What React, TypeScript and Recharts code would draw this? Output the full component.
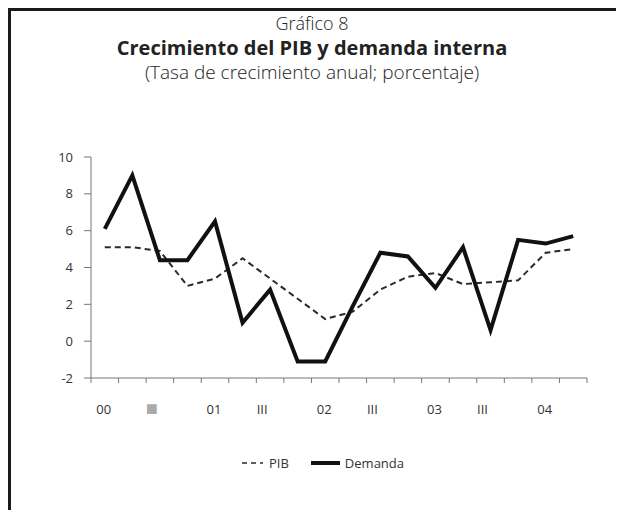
import { LineChart, Line, XAxis, YAxis } from "recharts";

// trimestres 2000 I - 2004 II
const quarters = [
  "00-I", "00-II", "00-III", "00-IV",
  "01-I", "01-II", "01-III", "01-IV",
  "02-I", "02-II", "02-III", "02-IV",
  "03-I", "03-II", "03-III", "03-IV",
  "04-I", "04-II",
];
const xLabels = ["00", "■", "01", "III", "02", "III", "03", "III", "04"];
const pib = [5.1, 5.1, 4.9, 3.0, 3.4, 4.5, 3.4, 2.3, 1.2, 1.6, 2.8, 3.5, 3.7, 3.1, 3.2, 3.3, 4.8, 5.0];
const demanda = [6.1, 9.0, 4.4, 4.4, 6.5, 1.0, 2.8, -1.1, -1.1, 1.9, 4.8, 4.6, 2.9, 5.1, 0.6, 5.5, 5.3, 5.7];
const yTicks = [-2, 0, 2, 4, 6, 8, 10];

const data = quarters.map((q, i) => ({ pos: i + 0.5, q, pib: pib[i], demanda: demanda[i] }));
const boundaryTicks = quarters.map((_, i) => i).concat(quarters.length);
const labelTicks = xLabels.map((_, i) => i * 2 + 0.5);

const FONT = "'Open Sans', sans-serif";
const AXIS = "#777";

function LabelTick(props: any) {
  const { x, y, payload } = props;
  const label = xLabels[Math.round((payload.value - 0.5) / 2)];
  const isYear = /^\d+$/.test(label);
  const square = label === "■";
  return (
    <text
      x={x + (isYear ? -1 : -8)}
      y={square ? y - 4 : y}
      dy="0.71em"
      textAnchor="middle"
      fontSize={square ? 20 : 13}
      fontFamily={FONT}
      fill={square ? "#aaa" : "#333"}
    >
      {label}
    </text>
  );
}

export default function App() {
  return (
    <div
      style={{
        position: "relative",
        width: 616,
        height: 502,
        borderTop: "3px solid #1a1a1a",
        borderLeft: "3px solid #1a1a1a",
        boxSizing: "border-box",
        fontFamily: FONT,
        color: "#222",
      }}
    >
      <style>{"html,body{overflow:hidden}"}</style>
      <div style={{ position: "absolute", left: 0, width: 602, top: 0, textAlign: "center", fontSize: 18, fontWeight: 300 }}>
        Gráfico 8
      </div>
      <div style={{ position: "absolute", left: 0, width: 602, top: 23, textAlign: "center", fontSize: 20, fontWeight: 700 }}>
        Crecimiento del PIB y demanda interna
      </div>
      <div style={{ position: "absolute", left: 0, width: 602, top: 48, textAlign: "center", fontSize: 19, fontWeight: 300 }}>
        (Tasa de crecimiento anual; porcentaje)
      </div>

      <div style={{ position: "absolute", left: 0, top: 0 }}>
        <LineChart width={600} height={420} data={data} margin={{ top: 146, right: 24, left: 0, bottom: 17 }}>
          <XAxis
            xAxisId="a"
            dataKey="pos"
            type="number"
            domain={[0, quarters.length]}
            ticks={boundaryTicks}
            interval={0}
            tickFormatter={() => ""}
            tickSize={5}
            height={6}
            stroke={AXIS}
            tickLine={{ stroke: AXIS }}
          />
          <XAxis
            xAxisId="b"
            dataKey="pos"
            type="number"
            domain={[0, quarters.length]}
            ticks={labelTicks}
            interval={0}
            axisLine={false}
            tickLine={false}
            tickSize={0}
            tickMargin={21}
            height={30}
            tick={LabelTick}
          />
          <YAxis
            domain={[-2, 10]}
            ticks={yTicks}
            interval={0}
            width={80}
            tickSize={7}
            tickMargin={11}
            stroke={AXIS}
            tick={{ fontSize: 13, fill: "#333", fontFamily: FONT }}
          />
          <Line
            xAxisId="a"
            dataKey="pib"
            type="linear"
            stroke="#2a2a2a"
            strokeWidth={2}
            strokeDasharray="6 4"
            dot={false}
            isAnimationActive={false}
          />
          <Line
            xAxisId="a"
            dataKey="demanda"
            type="linear"
            stroke="#111"
            strokeWidth={4}
            strokeLinejoin="miter"
            dot={false}
            isAnimationActive={false}
          />
        </LineChart>
      </div>

      <div style={{ position: "absolute", top: 443, left: 230, height: 18, display: "flex", alignItems: "center", fontSize: 13, color: "#333" }}>
        <svg width={24} height={10}>
          <line x1={1} y1={5} x2={22} y2={5} stroke="#2a2a2a" strokeWidth={1.5} strokeDasharray="5 4" />
        </svg>
        <span style={{ marginLeft: 4 }}>PIB</span>
        <svg width={30} height={10} style={{ marginLeft: 22 }}>
          <line x1={0} y1={5} x2={29} y2={5} stroke="#111" strokeWidth={4} />
        </svg>
        <span style={{ marginLeft: 4 }}>Demanda</span>
      </div>
    </div>
  );
}
